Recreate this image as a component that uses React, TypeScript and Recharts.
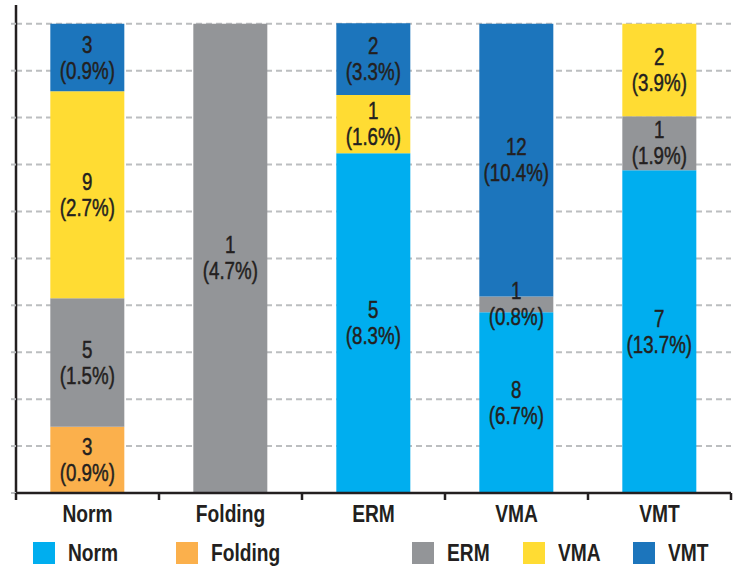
import { BarChart, Bar, XAxis, YAxis, CartesianGrid, Legend, LabelList } from 'recharts';

const categories = ['Norm', 'Folding', 'ERM', 'VMA', 'VMT'];

// segment share of each bar (% of bar height)
const normShare = [0, 0, 72.4, 38.5, 68.8];
const foldingShare = [14.1, 0, 0, 0, 0];
const ermShare = [27.4, 100, 0, 3.4, 11.5];
const vmaShare = [44.1, 0, 12.4, 0, 19.7];
const vmtShare = [14.4, 0, 15.3, 58.1, 0];

// counts and percentages printed inside the segments
const normCount = [null, null, 5, 8, 7];
const normPct = ['', '', '8.3', '6.7', '13.7'];
const foldingCount = [3, null, null, null, null];
const foldingPct = ['0.9', '', '', '', ''];
const ermCount = [5, 1, null, 1, 1];
const ermPct = ['1.5', '4.7', '', '0.8', '1.9'];
const vmaCount = [9, null, 1, null, 2];
const vmaPct = ['2.7', '', '1.6', '', '3.9'];
const vmtCount = [3, null, 2, 12, null];
const vmtPct = ['0.9', '', '3.3', '10.4', ''];

const yTicks = [0, 10, 20, 30, 40, 50, 60, 70, 80, 90, 100];

const series = [
  { key: 'Norm', color: '#00AEEF', share: normShare, count: normCount, pct: normPct },
  { key: 'Folding', color: '#FBB04C', share: foldingShare, count: foldingCount, pct: foldingPct },
  { key: 'ERM', color: '#939598', share: ermShare, count: ermCount, pct: ermPct },
  { key: 'VMA', color: '#FFDC33', share: vmaShare, count: vmaCount, pct: vmaPct },
  { key: 'VMT', color: '#1C75BC', share: vmtShare, count: vmtCount, pct: vmtPct },
];

const data = categories.map((category, i) => {
  const row: Record<string, any> = { category };
  series.forEach((s) => {
    row[s.key] = s.share[i];
    row[s.key + 'Label'] = s.count[i] == null ? null : `${s.count[i]}|${s.pct[i]}`;
  });
  return row;
});

const FONT = '"Liberation Sans", Arial, sans-serif';
const INK = '#231F20';
const BAND = 143;
const NARROW = 0.8;

const legendLeft = [33, 176, 412, 523, 633];

const SegLabel = (props: any) => {
  const { x, y, width, height, value } = props;
  if (value == null || value === '') return null;
  const [count, pct] = String(value).split('|');
  const cx = Number(x) + Number(width) / 2;
  const cy = Number(y) + Number(height) / 2;
  return (
    <text
      transform={`translate(${cx},${cy}) scale(0.78,1)`}
      textAnchor="middle"
      fill={INK}
      stroke={INK}
      strokeWidth={0.5}
      fontFamily={FONT}
      fontSize={24}
    >
      <tspan x={0} dy={-5}>{count}</tspan>
      <tspan x={0} dy={26}>({pct}%)</tspan>
    </text>
  );
};

const XTick = (props: any) => {
  const { x, y, payload, index } = props;
  const last = index === categories.length - 1;
  return (
    <g>
      <line x1={x - BAND / 2} x2={x - BAND / 2} y1={493} y2={500} stroke={INK} strokeWidth={2.5} />
      {last && <line x1={x + BAND / 2} x2={x + BAND / 2} y1={493} y2={500} stroke={INK} strokeWidth={2.5} />}
      <text
        transform={`translate(${x},${y + 21}) scale(${NARROW},1)`}
        textAnchor="middle"
        fill={INK}
        fontFamily={FONT}
        fontSize={24}
        fontWeight="bold"
      >
        {payload.value}
      </text>
    </g>
  );
};

const NoTick = () => <g />;

const LegendBox = () => (
  <div style={{ position: 'relative', height: 44, width: 741 }}>
    {series.map((s, i) => (
      <div key={s.key} style={{ position: 'absolute', left: legendLeft[i], top: 9, display: 'flex', alignItems: 'center' }}>
        <div style={{ width: 22, height: 22, background: s.color }} />
        <span
          style={{
            marginLeft: 13,
            display: 'inline-block',
            transform: `scaleX(${NARROW})`,
            transformOrigin: 'left center',
            fontFamily: FONT,
            fontSize: 24,
            fontWeight: 'bold',
            color: INK,
            lineHeight: '22px',
          }}
        >
          {s.key}
        </span>
      </div>
    ))}
  </div>
);

export default function App() {
  return (
    <div style={{ width: 741, height: 577 }}>
      <style>{`body{margin:0}`}</style>
      <BarChart
        width={741}
        height={577}
        data={data}
        margin={{ top: 5, right: 10, bottom: 0, left: 0 }}
        barCategoryGap="24%"
      >
        <CartesianGrid
          vertical={false}
          horizontalValues={yTicks}
          stroke="#BCBEC0"
          strokeWidth={2}
          strokeDasharray="6 4"
        />
        <XAxis
          dataKey="category"
          axisLine={{ stroke: INK, strokeWidth: 2.5 }}
          tickLine={false}
          tick={<XTick />}
          height={40}
          interval={0}
        />
        <YAxis
          width={16}
          domain={[0, 104]}
          ticks={yTicks}
          tick={<NoTick />}
          tickSize={5}
          tickLine={{ stroke: '#BCBEC0', strokeWidth: 2 }}
          axisLine={{ stroke: INK, strokeWidth: 2.5 }}
          interval={0}
        />
        <Legend verticalAlign="bottom" content={<LegendBox />} wrapperStyle={{ left: 0, width: 741 }} />
        {series.map((s) => (
          <Bar key={s.key} dataKey={s.key} stackId="a" fill={s.color} isAnimationActive={false}>
            <LabelList dataKey={s.key + 'Label'} content={<SegLabel />} />
          </Bar>
        ))}
      </BarChart>
    </div>
  );
}
